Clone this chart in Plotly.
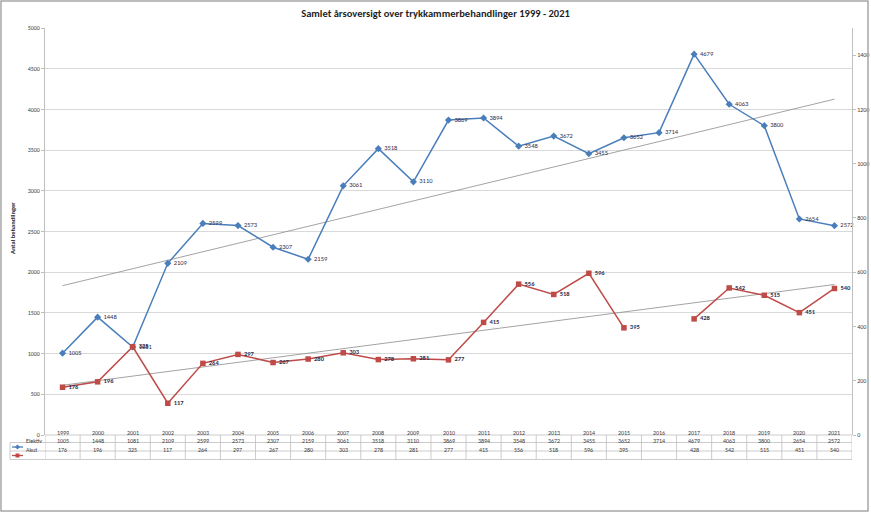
import numpy as np
import plotly.graph_objects as go

years = [str(y) for y in range(1999, 2022)]
elektiv = [1005, 1448, 1081, 2109, 2599, 2573, 2307, 2159, 3061, 3518, 3110, 3869,
           3894, 3548, 3672, 3455, 3652, 3714, 4679, 4063, 3800, 2654, 2572]
akut = [176, 196, 325, 117, 264, 297, 267, 280, 303, 278, 281, 277,
        415, 556, 518, 596, 395, None, 428, 542, 515, 451, 540]
series_names = ["Elektiv", "Akut"]
title = "Samlet årsoversigt over trykkammerbehandlinger 1999 - 2021"
y_title = "Antal behandlinger"

BLUE = "#4A7EBB"
RED = "#BE4B48"
FONT = "Carlito, Calibri, 'Liberation Sans Narrow', 'Liberation Sans', Arial, sans-serif"

# plot-area pixel frame
W_FIG, H_FIG = 871, 515
L, R, T, B = 45, 852, 28, 435
PW, PH = R - L, B - T


def px(x):
    return (x - L) / PW


def py(y):
    return (B - y) / PH


xs = list(range(len(years)))

# linear trendlines (as Excel does)
ce = np.polyfit(xs, elektiv, 1)
ak_x = [x for x, v in zip(xs, akut) if v is not None]
ak_v = [v for v in akut if v is not None]
ca = np.polyfit(ak_x, ak_v, 1)

fig = go.Figure()

fig.add_trace(go.Scatter(
    x=[xs[0], xs[-1]], y=[np.polyval(ce, xs[0]), np.polyval(ce, xs[-1])],
    mode="lines", line=dict(color="#8C8C8C", width=0.8), hoverinfo="skip",
    showlegend=False))
fig.add_trace(go.Scatter(
    x=[ak_x[0], ak_x[-1]], y=[np.polyval(ca, ak_x[0]), np.polyval(ca, ak_x[-1])],
    mode="lines", line=dict(color="#8C8C8C", width=0.8), hoverinfo="skip",
    showlegend=False, yaxis="y2"))

fig.add_trace(go.Scatter(
    x=xs, y=elektiv, name=series_names[0], mode="lines+markers+text",
    line=dict(color=BLUE, width=1.5),
    marker=dict(symbol="diamond", size=5.5, color=BLUE),
    text=[f" {v}" for v in elektiv], textposition="middle right",
    textfont=dict(size=6.5, color="#2F2F4F", family=FONT),
    cliponaxis=False, showlegend=False))
fig.add_trace(go.Scatter(
    x=xs, y=akut, name=series_names[1], mode="lines+markers+text",
    line=dict(color=RED, width=1.5), connectgaps=False,
    marker=dict(symbol="square", size=5.5, color=RED),
    text=[(f" <b>{v}</b>" if v is not None else "") for v in akut],
    textposition="middle right",
    textfont=dict(size=6.5, color="#2F2F4F", family=FONT),
    cliponaxis=False, showlegend=False, yaxis="y2"))

shapes = []
annotations = []

# outer chart border
shapes.append(dict(type="rect", xref="paper", yref="paper",
                   x0=px(1), x1=px(868), y0=py(1), y1=py(511),
                   line=dict(color="#A6A6A6", width=1.5)))

# data table
row_lines = [435, 442.5, 451, 459.5]
grid_c = "#BFBFBF"
for i, yy in enumerate(row_lines):
    x0 = L if i == 0 else 10
    shapes.append(dict(type="line", xref="paper", yref="paper",
                       x0=px(x0), x1=px(R), y0=py(yy), y1=py(yy),
                       line=dict(color=grid_c, width=0.8)))
for k in range(len(years) + 1):
    shapes.append(dict(type="line", xref="x", yref="paper",
                       x0=k - 0.5, x1=k - 0.5, y0=py(435), y1=py(459.5),
                       line=dict(color=grid_c, width=0.8)))
shapes.append(dict(type="line", xref="paper", yref="paper",
                   x0=px(10), x1=px(10), y0=py(442.5), y1=py(459.5),
                   line=dict(color=grid_c, width=0.8)))

row_y = [438.8, 447, 455.5]
tfont = dict(size=6, color="#404040", family=FONT)
for k, yr in enumerate(years):
    annotations.append(dict(x=k, y=py(row_y[0]), xref="x", yref="paper",
                            text=yr, showarrow=False, font=tfont))
    annotations.append(dict(x=k, y=py(row_y[1]), xref="x", yref="paper",
                            text=str(elektiv[k]), showarrow=False, font=tfont))
    if akut[k] is not None:
        annotations.append(dict(x=k, y=py(row_y[2]), xref="x", yref="paper",
                                text=str(akut[k]), showarrow=False, font=tfont))

# legend keys in table
for name, color, sym, yy in [(series_names[0], BLUE, "diamond", row_y[1]),
                             (series_names[1], RED, "square", row_y[2])]:
    shapes.append(dict(type="line", xref="paper", yref="paper",
                       x0=px(12), x1=px(23), y0=py(yy), y1=py(yy),
                       line=dict(color=color, width=1.3)))
    if sym == "diamond":
        shapes.append(dict(type="path", xref="paper", yref="paper",
                           path=f"M {px(17.5)} {py(yy-2.5)} L {px(20)} {py(yy)} L {px(17.5)} {py(yy+2.5)} L {px(15)} {py(yy)} Z",
                           fillcolor=color, line=dict(width=0)))
    else:
        shapes.append(dict(type="rect", xref="paper", yref="paper",
                           x0=px(15.5), x1=px(19.5), y0=py(yy - 2), y1=py(yy + 2),
                           fillcolor=color, line=dict(width=0)))
    annotations.append(dict(x=px(24), y=py(yy), xref="paper", yref="paper",
                            text=name, showarrow=False, xanchor="left", font=tfont))

# y-axis title
annotations.append(dict(x=px(7), y=py(228), xref="paper", yref="paper",
                        text=f"<b>{y_title}</b>", showarrow=False, textangle=-90,
                        font=dict(size=6.5, color="#262626", family=FONT)))

fig.update_layout(
    width=W_FIG, height=H_FIG,
    margin=dict(l=L, r=W_FIG - R, t=T, b=H_FIG - B, autoexpand=False),
    paper_bgcolor="white", plot_bgcolor="white",
    title=dict(text=f"<b>{title}</b>", x=0.5, xanchor="center",
               y=1 - 13 / H_FIG, yanchor="middle",
               font=dict(size=10.5, color="#1F1F1F", family=FONT)),
    xaxis=dict(range=[-0.5, len(years) - 0.5], showticklabels=False,
               showgrid=False, zeroline=False, showline=False, fixedrange=True),
    yaxis=dict(range=[0, 5000], dtick=500, tick0=0, showgrid=True,
               gridcolor="#D9D9D9", gridwidth=1, zeroline=False,
               showline=True, linecolor="#BFBFBF", linewidth=1,
               ticks="outside", ticklen=3, tickcolor="#BFBFBF",
               tickfont=dict(size=6, color="#404040", family=FONT)),
    yaxis2=dict(range=[0, 1500], tickvals=list(range(0, 1401, 200)),
                overlaying="y", side="right", showgrid=False, zeroline=False,
                showline=True, linecolor="#BFBFBF", linewidth=1,
                ticks="outside", ticklen=3, tickcolor="#BFBFBF",
                tickfont=dict(size=6, color="#404040", family=FONT)),
    shapes=shapes, annotations=annotations, showlegend=False,
)

fig.write_html("out.html")
